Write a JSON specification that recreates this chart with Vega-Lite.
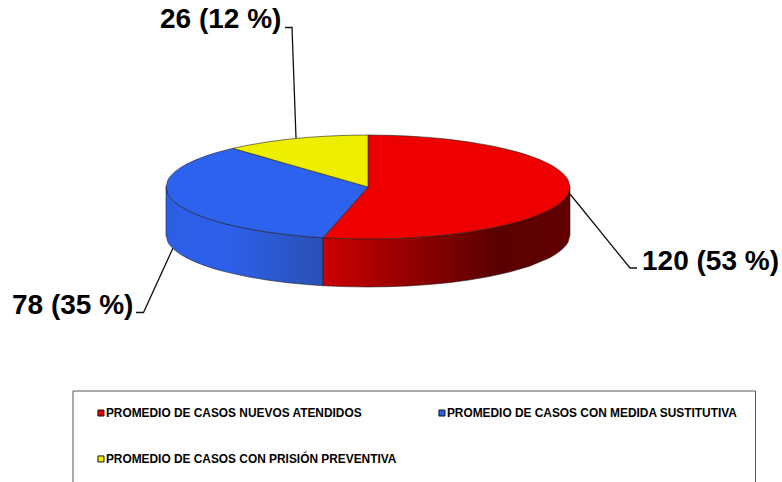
{
"$schema":"https://vega.github.io/schema/vega-lite/v6.json",
"width":782,"height":482,"autosize":"none","padding":0,"background":"white",
"config":{"view":{"stroke":null}},
"datasets":{
"tapa":[
{"serie":"PROMEDIO DE CASOS NUEVOS ATENDIDOS","x":323,"y":237.7,"y2":237.7},
{"serie":"PROMEDIO DE CASOS NUEVOS ATENDIDOS","x":343,"y":215.2,"y2":238.6},
{"serie":"PROMEDIO DE CASOS NUEVOS ATENDIDOS","x":367.95,"y":187,"y2":239},
{"serie":"PROMEDIO DE CASOS NUEVOS ATENDIDOS","x":368,"y":135,"y2":239},
{"serie":"PROMEDIO DE CASOS NUEVOS ATENDIDOS","x":388.2,"y":135.3,"y2":238.7},
{"serie":"PROMEDIO DE CASOS NUEVOS ATENDIDOS","x":408.4,"y":136.1,"y2":237.9},
{"serie":"PROMEDIO DE CASOS NUEVOS ATENDIDOS","x":428.6,"y":137.4,"y2":236.6},
{"serie":"PROMEDIO DE CASOS NUEVOS ATENDIDOS","x":448.8,"y":139.3,"y2":234.7},
{"serie":"PROMEDIO DE CASOS NUEVOS ATENDIDOS","x":469,"y":142,"y2":232},
{"serie":"PROMEDIO DE CASOS NUEVOS ATENDIDOS","x":489.2,"y":145.4,"y2":228.6},
{"serie":"PROMEDIO DE CASOS NUEVOS ATENDIDOS","x":499.3,"y":147.5,"y2":226.5},
{"serie":"PROMEDIO DE CASOS NUEVOS ATENDIDOS","x":509.4,"y":149.9,"y2":224.1},
{"serie":"PROMEDIO DE CASOS NUEVOS ATENDIDOS","x":519.5,"y":152.6,"y2":221.4},
{"serie":"PROMEDIO DE CASOS NUEVOS ATENDIDOS","x":529.6,"y":155.8,"y2":218.2},
{"serie":"PROMEDIO DE CASOS NUEVOS ATENDIDOS","x":539.7,"y":159.6,"y2":214.4},
{"serie":"PROMEDIO DE CASOS NUEVOS ATENDIDOS","x":549.8,"y":164.3,"y2":209.7},
{"serie":"PROMEDIO DE CASOS NUEVOS ATENDIDOS","x":555.9,"y":167.9,"y2":206.1},
{"serie":"PROMEDIO DE CASOS NUEVOS ATENDIDOS","x":561.9,"y":172.4,"y2":201.6},
{"serie":"PROMEDIO DE CASOS NUEVOS ATENDIDOS","x":566,"y":176.7,"y2":197.3},
{"serie":"PROMEDIO DE CASOS NUEVOS ATENDIDOS","x":568,"y":179.7,"y2":194.3},
{"serie":"PROMEDIO DE CASOS NUEVOS ATENDIDOS","x":570,"y":187,"y2":187},
{"serie":"PROMEDIO DE CASOS CON MEDIDA SUSTITUTIVA","x":166,"y":187,"y2":187},
{"serie":"PROMEDIO DE CASOS CON MEDIDA SUSTITUTIVA","x":168,"y":179.7,"y2":194.3},
{"serie":"PROMEDIO DE CASOS CON MEDIDA SUSTITUTIVA","x":170,"y":176.7,"y2":197.3},
{"serie":"PROMEDIO DE CASOS CON MEDIDA SUSTITUTIVA","x":174.1,"y":172.4,"y2":201.6},
{"serie":"PROMEDIO DE CASOS CON MEDIDA SUSTITUTIVA","x":180.1,"y":167.9,"y2":206.1},
{"serie":"PROMEDIO DE CASOS CON MEDIDA SUSTITUTIVA","x":186.2,"y":164.3,"y2":209.7},
{"serie":"PROMEDIO DE CASOS CON MEDIDA SUSTITUTIVA","x":196.3,"y":159.6,"y2":214.4},
{"serie":"PROMEDIO DE CASOS CON MEDIDA SUSTITUTIVA","x":206.4,"y":155.8,"y2":218.2},
{"serie":"PROMEDIO DE CASOS CON MEDIDA SUSTITUTIVA","x":216.5,"y":152.6,"y2":221.4},
{"serie":"PROMEDIO DE CASOS CON MEDIDA SUSTITUTIVA","x":226.6,"y":149.9,"y2":224.1},
{"serie":"PROMEDIO DE CASOS CON MEDIDA SUSTITUTIVA","x":233,"y":148.3,"y2":225.7},
{"serie":"PROMEDIO DE CASOS CON MEDIDA SUSTITUTIVA","x":246.8,"y":152.3,"y2":228.6},
{"serie":"PROMEDIO DE CASOS CON MEDIDA SUSTITUTIVA","x":267,"y":158.1,"y2":232},
{"serie":"PROMEDIO DE CASOS CON MEDIDA SUSTITUTIVA","x":287.2,"y":163.9,"y2":234.7},
{"serie":"PROMEDIO DE CASOS CON MEDIDA SUSTITUTIVA","x":307.4,"y":169.7,"y2":236.6},
{"serie":"PROMEDIO DE CASOS CON MEDIDA SUSTITUTIVA","x":323,"y":174.1,"y2":237.7},
{"serie":"PROMEDIO DE CASOS CON MEDIDA SUSTITUTIVA","x":345,"y":180.4,"y2":212.9},
{"serie":"PROMEDIO DE CASOS CON MEDIDA SUSTITUTIVA","x":368,"y":187,"y2":187},
{"serie":"PROMEDIO DE CASOS CON PRISIÓN PREVENTIVA","x":233,"y":148.3,"y2":148.3},
{"serie":"PROMEDIO DE CASOS CON PRISIÓN PREVENTIVA","x":236.7,"y":147.5,"y2":149.4},
{"serie":"PROMEDIO DE CASOS CON PRISIÓN PREVENTIVA","x":246.8,"y":145.4,"y2":152.3},
{"serie":"PROMEDIO DE CASOS CON PRISIÓN PREVENTIVA","x":267,"y":142,"y2":158.1},
{"serie":"PROMEDIO DE CASOS CON PRISIÓN PREVENTIVA","x":287.2,"y":139.3,"y2":163.9},
{"serie":"PROMEDIO DE CASOS CON PRISIÓN PREVENTIVA","x":307.4,"y":137.4,"y2":169.7},
{"serie":"PROMEDIO DE CASOS CON PRISIÓN PREVENTIVA","x":327.6,"y":136.1,"y2":175.4},
{"serie":"PROMEDIO DE CASOS CON PRISIÓN PREVENTIVA","x":347.8,"y":135.3,"y2":181.2},
{"serie":"PROMEDIO DE CASOS CON PRISIÓN PREVENTIVA","x":368,"y":135,"y2":187}
],
"ladoAzul":[
{"x":166,"y":187,"y2":235},{"x":168,"y":194.3,"y2":242.3},{"x":170,"y":197.3,"y2":245.3},{"x":174.1,"y":201.6,"y2":249.6},{"x":180.1,"y":206.1,"y2":254.1},{"x":186.2,"y":209.7,"y2":257.7},{"x":196.3,"y":214.4,"y2":262.4},{"x":206.4,"y":218.2,"y2":266.2},{"x":216.5,"y":221.4,"y2":269.4},{"x":226.6,"y":224.1,"y2":272.1},{"x":246.8,"y":228.6,"y2":276.6},{"x":267,"y":232,"y2":280},{"x":287.2,"y":234.7,"y2":282.7},{"x":307.4,"y":236.6,"y2":284.6},{"x":323,"y":237.7,"y2":285.7}
],
"ladoRojo":[
{"x":323,"y":237.7,"y2":285.7},{"x":343,"y":238.6,"y2":286.6},{"x":368,"y":239,"y2":287},{"x":388.2,"y":238.7,"y2":286.7},{"x":408.4,"y":237.9,"y2":285.9},{"x":428.6,"y":236.6,"y2":284.6},{"x":448.8,"y":234.7,"y2":282.7},{"x":469,"y":232,"y2":280},{"x":489.2,"y":228.6,"y2":276.6},{"x":509.4,"y":224.1,"y2":272.1},{"x":529.6,"y":218.2,"y2":266.2},{"x":549.8,"y":209.7,"y2":257.7},{"x":555.9,"y":206.1,"y2":254.1},{"x":561.9,"y":201.6,"y2":249.6},{"x":566,"y":197.3,"y2":245.3},{"x":568,"y":194.3,"y2":242.3},{"x":570,"y":187,"y2":235}
],
"guias":[
{"g":"a","i":1,"x":570,"y":194},{"g":"a","i":2,"x":630,"y":268},{"g":"a","i":3,"x":637,"y":268},
{"g":"b","i":1,"x":173,"y":248},{"g":"b","i":2,"x":143.5,"y":312.5},{"g":"b","i":3,"x":136,"y":312.5},
{"g":"c","i":1,"x":296,"y":138},{"g":"c","i":2,"x":292,"y":27.5},{"g":"c","i":3,"x":285,"y":27.5}
],
"etiquetas":[
{"casos":120,"pct":53,"etiqueta":"120 (53 %)","x":642,"y":270},
{"casos":78,"pct":35,"etiqueta":"78 (35 %)","x":12,"y":314},
{"casos":26,"pct":12,"etiqueta":"26 (12 %)","x":160,"y":28}
],
"marco":[
{"lado":"sup","x":73,"x2":755.5,"y":391,"y2":391},
{"lado":"izq","x":73,"x2":73,"y":391,"y2":482},
{"lado":"der","x":755.5,"x2":755.5,"y":391,"y2":482}
]
},
"encoding":{
"x":{"field":"x","type":"quantitative","scale":{"domain":[0,782]},"axis":null},
"y":{"field":"y","type":"quantitative","scale":{"domain":[482,0]},"axis":null}
},
"layer":[
{"data":{"name":"guias"},"mark":{"type":"line","color":"#111111","strokeWidth":1.3},
 "encoding":{"detail":{"field":"g"},"order":{"field":"i","type":"quantitative"}}},
{"data":{"name":"ladoAzul"},"mark":{"type":"area","stroke":"#222222","strokeWidth":0.6,
 "fill":{"gradient":"linear","x1":0,"x2":1,"y1":0,"y2":0,"stops":[{"offset":0,"color":"#2c5ee6"},{"offset":0.4,"color":"#2d60ea"},{"offset":1,"color":"#2a50b4"}]}},
 "encoding":{"y2":{"field":"y2"}}},
{"data":{"name":"ladoRojo"},"mark":{"type":"area","stroke":"#222222","strokeWidth":0.6,
 "fill":{"gradient":"linear","x1":0,"x2":1,"y1":0,"y2":0,"stops":[{"offset":0,"color":"#cc0000"},{"offset":0.7,"color":"#5a0000"},{"offset":1,"color":"#620000"}]}},
 "encoding":{"y2":{"field":"y2"}}},
{"data":{"name":"tapa"},"mark":{"type":"area","stroke":"#222222","strokeWidth":0.6},
 "encoding":{"y2":{"field":"y2"},
 "color":{"field":"serie","type":"nominal","sort":null,
  "scale":{"domain":["PROMEDIO DE CASOS NUEVOS ATENDIDOS","PROMEDIO DE CASOS CON MEDIDA SUSTITUTIVA","PROMEDIO DE CASOS CON PRISIÓN PREVENTIVA"],"range":["#ee0000","#2d62ee","#eeee00"]},
  "legend":{"title":null,"orient":"none","direction":"horizontal","legendX":95,"legendY":407,"columns":2,"symbolType":"square","symbolSize":36,"symbolStrokeColor":"#111111","symbolStrokeWidth":1,"symbolOpacity":1,"labelFont":"Liberation Sans","labelFontWeight":"bold","labelFontSize":11.9,"labelColor":"#000000","labelLimit":500,"labelOffset":-1,"columnPadding":39,"rowPadding":33,"padding":0}}}},
{"data":{"name":"marco"},"mark":{"type":"rule","color":"#555555","strokeWidth":1},
 "encoding":{"x2":{"field":"x2"},"y2":{"field":"y2"}}},
{"data":{"name":"etiquetas"},"mark":{"type":"text","font":"Liberation Sans","fontWeight":"bold","fontSize":28,"align":"left","baseline":"alphabetic","color":"#000000"},
 "encoding":{"text":{"field":"etiqueta"}}}
]
}
